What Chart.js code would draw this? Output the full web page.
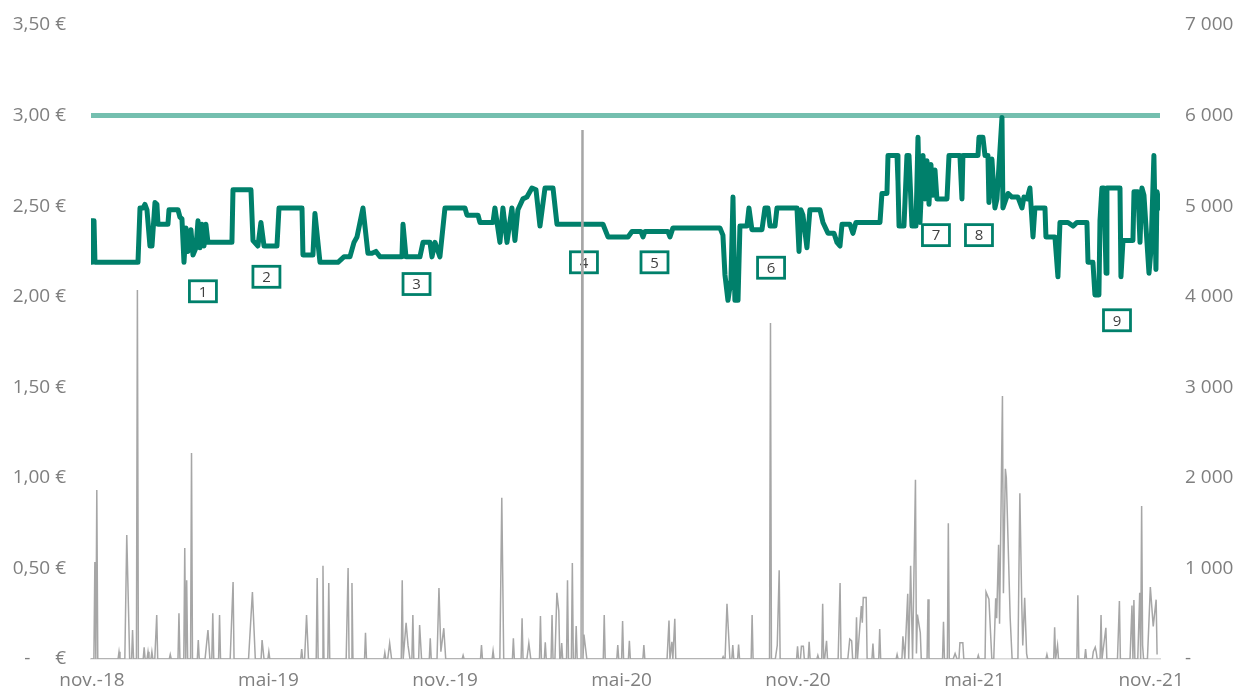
<!DOCTYPE html>
<html>
<head>
<meta charset="utf-8">
<script src="https://cdn.jsdelivr.net/npm/chart.js@4/dist/chart.umd.min.js"></script>
<style>
  html, body { margin: 0; padding: 0; background: #ffffff; }
  #wrap { width: 1236px; height: 693px; position: relative; }
</style>
</head>
<body>
<div id="wrap"><canvas id="c" width="1236" height="693"></canvas></div>
<script>
// ---- Data (x = days since 1 Nov 2018) ----
const xTickDays = [0, 182.6, 365.3, 547.9, 730.5, 913.1, 1095.8];
const xTickLabels = ['nov.-18', 'mai-19', 'nov.-19', 'mai-20', 'nov.-20', 'mai-21', 'nov.-21'];
const priceTickLabels = ['-     €', '0,50 €', '1,00 €', '1,50 €', '2,00 €', '2,50 €', '3,00 €', '3,50 €'];
const volTickLabels = ['-', '1 000', '2 000', '3 000', '4 000', '5 000', '6 000', '7 000'];

const priceDays = [-1,0,2.1,3.1,47.6,49.7,52.8,54.8,56.9,60,62.1,65.2,67.2,68.3,78.6,79.7,89,91,93.1,95.2,97.3,99.3,102.4,104.5,107.6,109.7,111.7,113.8,115.9,117.9,120,144.8,145.9,164.5,166.6,171.7,174.8,178,191.4,193.5,217.3,218.3,228.6,230.7,235.9,254.5,260.7,266.9,271.1,274.2,280.4,285.5,289.7,293.8,298,320.7,321.8,324.9,339.3,342.5,349.7,351.8,354.9,360,365.2,385.9,388,399.4,401.4,414.9,416.9,422.1,425.2,429.4,434.5,437.6,440.7,445.9,450,455.2,459.4,463.5,468.7,477,481.1,528.7,533.9,554.6,558.7,568,570.1,572.1,595.9,598,601.1,649.7,652.8,654.9,658,661.1,663.2,665.2,668.4,670.4,677.7,679.7,682.8,693.2,696.3,699.4,701.5,706.7,708.7,729.4,731.5,733.5,735.6,739.7,742.8,753.2,756.3,761.5,767.7,770.8,773.9,776,784.2,787.3,790.4,815.3,817.3,822.5,823.6,832.9,833.9,835,840.1,843.2,845.3,848.4,852.5,854.6,856.7,859.8,861.8,863.9,866,868,870.1,872.2,874.2,884.6,886.7,898,900.1,901.1,916.7,917.7,921.8,923.9,927,928,931.1,934.2,936.3,941.5,942.5,947.7,951.8,958,962.2,964.2,967.4,970.4,973.6,975.6,986,987,996.3,999.4,1001.5,1009.8,1015,1019.1,1029.4,1030.5,1035.6,1037.7,1041.8,1042.9,1044.9,1047,1049.2,1050.1,1063.6,1064.6,1066.7,1077,1078.1,1082.2,1084.3,1086.3,1088.4,1093.6,1095.7,1098.7,1100.8,1101.9,1105];
const priceValues = [2.19,2.42,2.42,2.19,2.19,2.49,2.49,2.51,2.48,2.28,2.28,2.52,2.51,2.40,2.40,2.48,2.48,2.44,2.43,2.19,2.38,2.25,2.37,2.23,2.27,2.42,2.27,2.40,2.28,2.40,2.30,2.30,2.59,2.59,2.31,2.28,2.41,2.28,2.28,2.49,2.49,2.23,2.23,2.46,2.19,2.19,2.22,2.22,2.30,2.33,2.49,2.24,2.24,2.25,2.22,2.22,2.40,2.22,2.22,2.30,2.30,2.22,2.30,2.22,2.49,2.49,2.45,2.45,2.41,2.41,2.49,2.30,2.49,2.30,2.49,2.31,2.48,2.54,2.55,2.60,2.59,2.39,2.60,2.60,2.40,2.40,2.33,2.33,2.36,2.36,2.33,2.36,2.36,2.33,2.38,2.38,2.34,2.12,1.98,2.09,2.55,1.98,1.98,2.39,2.39,2.49,2.37,2.37,2.49,2.49,2.39,2.39,2.49,2.49,2.25,2.48,2.45,2.27,2.48,2.48,2.41,2.35,2.35,2.30,2.28,2.40,2.40,2.35,2.41,2.41,2.57,2.57,2.78,2.78,2.64,2.39,2.39,2.78,2.78,2.39,2.39,2.88,2.41,2.78,2.54,2.75,2.51,2.73,2.56,2.70,2.54,2.54,2.78,2.78,2.54,2.78,2.78,2.88,2.88,2.78,2.78,2.52,2.76,2.49,2.54,2.99,2.49,2.57,2.55,2.55,2.49,2.55,2.54,2.60,2.33,2.49,2.49,2.33,2.33,2.11,2.41,2.41,2.39,2.41,2.41,2.19,2.19,2.01,2.01,2.42,2.60,2.60,2.13,2.60,2.60,2.11,2.31,2.31,2.58,2.58,2.30,2.60,2.56,2.13,2.26,2.78,2.15,2.58,2.49];

const ceilingDays = [-1, 1105];
const ceilingValues = [3.00, 3.00];

const volDays = [-1,2,3,4,5,6,27,28,29,34,36,39,41,42,43,46,47,48,53,54,55,57,58,59,61,62,63,65,67,68,80,81,82,89,90,91,95,96,97,98,99,102,103,104,109,110,111,117,120,122,124,125,126,131,132,133,143,146,147,162,166,169,175,176,178,182,183,184,216,217,218,220,222,224,232,233,234,238,239,240,244,245,246,263,265,266,268,269,270,282,283,284,302,303,304,306,308,310,320,321,322,325,327,329,331,332,333,338,339,341,349,350,351,357,359,361,364,366,383,384,385,402,403,404,414,415,416,422,424,426,435,436,437,444,445,446,450,452,454,463,464,465,468,469,470,475,476,477,479,481,483,484,485,486,487,491,492,493,496,497,498,500,501,502,506,507,508,509,512,529,530,531,543,544,545,548,549,550,555,556,557,570,571,572,595,597,598,600,601,603,604,652,653,654,655,657,660,662,663,664,668,669,670,682,683,684,701,702,703,707,709,711,712,729,730,731,733,734,736,737,741,742,743,750,751,752,755,756,757,758,760,761,772,774,775,782,784,786,787,790,791,792,796,797,798,801,802,807,808,809,814,815,816,832,833,834,838,839,841,844,845,847,849,852,853,854,857,858,864,865,866,880,881,882,885,886,887,891,893,895,897,898,901,902,916,917,918,924,925,928,931,933,935,936,938,939,942,943,945,946,950,952,958,960,962,963,965,967,968,987,988,989,995,996,997,999,1000,1019,1020,1021,1027,1028,1029,1035,1036,1038,1039,1040,1043,1044,1045,1049,1050,1061,1063,1064,1074,1076,1077,1078,1079,1082,1084,1085,1086,1087,1088,1092,1095,1098,1101,1102];
const volValues = [0,0,1070,0,1865,0,0,80,0,0,1370,0,0,320,0,0,4075,0,0,130,0,0,80,0,0,80,0,0,485,0,0,50,0,0,505,0,0,1225,0,870,0,0,2275,0,0,210,0,0,320,0,0,505,0,0,485,0,0,850,0,0,740,0,0,210,0,0,80,0,0,110,0,0,485,0,0,895,0,0,1030,0,0,840,0,0,1005,0,0,840,0,0,290,0,0,70,0,0,175,0,0,870,0,400,150,0,0,485,0,0,375,0,0,230,0,0,785,80,340,0,0,40,0,0,155,0,0,90,0,0,1780,0,0,230,0,0,450,0,0,175,0,0,475,0,0,185,0,0,485,0,0,730,530,0,0,175,0,0,870,0,0,1060,0,0,365,0,0,5840,0,270,0,0,485,0,0,155,0,0,420,0,0,200,0,0,155,0,0,425,0,190,0,445,0,0,25,0,0,610,0,0,155,0,0,160,0,0,485,0,0,3710,0,0,150,980,0,0,140,0,0,140,140,0,0,190,0,0,40,0,0,610,0,0,200,0,0,840,0,0,220,200,0,0,460,0,585,400,680,680,0,0,170,0,0,330,0,0,50,0,0,250,0,720,0,1030,0,1980,60,490,290,0,0,660,0,0,410,0,0,1500,0,0,60,0,0,180,180,0,0,40,0,0,740,660,0,0,670,450,1260,390,2905,725,2100,2000,450,0,0,1830,600,150,675,60,0,0,50,0,0,350,0,150,0,0,705,0,0,110,0,0,80,130,80,0,0,485,0,345,0,0,640,0,0,590,0,650,0,0,730,0,1690,150,0,0,795,360,655,50];

const annoLabels = ['1','2','3','4','5','6','7','8','9'];
const annoDays   = [114.8, 180.5, 335.8, 509.0, 582.0, 702.6, 873.2, 917.7, 1060.5];
const annoPrices = [2.03, 2.11, 2.07, 2.19, 2.19, 2.16, 2.34, 2.34, 1.87];

// ---- Build datasets ----
const toPoints = (xs, ys) => xs.map((x, i) => ({ x: x, y: ys[i] }));

const GREEN = '#00806B';
const TEAL = '#74BFAF';
const GREY = '#A6A6A6';
const LABEL = '#7F7F7F';
const FONT = "'Open Sans', 'DejaVu Sans', sans-serif";

const annoPlugin = {
  id: 'annoBoxes',
  beforeDatasetsDraw(chart) {
    const ctx = chart.ctx;
    const xs = chart.scales.x, ys = chart.scales.y;
    ctx.save();
    annoLabels.forEach((lab, i) => {
      const cx = xs.getPixelForValue(annoDays[i]);
      const cy = ys.getPixelForValue(annoPrices[i]);
      const w = 27, h = 21;
      ctx.fillStyle = '#ffffff';
      ctx.fillRect(cx - w / 2, cy - h / 2, w, h);
      ctx.lineWidth = 2.8;
      ctx.strokeStyle = GREEN;
      ctx.strokeRect(cx - w / 2, cy - h / 2, w, h);
      ctx.fillStyle = '#404040';
      ctx.font = "15px " + FONT;
      ctx.textAlign = 'center';
      ctx.textBaseline = 'middle';
      ctx.fillText(lab, cx, cy + 1);
    });
    ctx.restore();
  }
};

new Chart(document.getElementById('c'), {
  type: 'line',
  data: {
    datasets: [
      {
        label: 'Volume',
        data: toPoints(volDays, volValues),
        yAxisID: 'yVol',
        borderColor: GREY,
        borderWidth: 1.5,
        pointRadius: 0,
        tension: 0,
        order: 0
      },
      {
        label: 'Cours',
        data: toPoints(priceDays, priceValues),
        yAxisID: 'y',
        borderColor: GREEN,
        borderWidth: 5,
        borderJoinStyle: 'round',
        borderCapStyle: 'round',
        pointRadius: 0,
        tension: 0,
        order: 1
      },
      {
        label: 'Plafond',
        data: toPoints(ceilingDays, ceilingValues),
        yAxisID: 'y',
        borderColor: TEAL,
        borderWidth: 5,
        borderCapStyle: 'round',
        pointRadius: 0,
        order: 2
      }
    ]
  },
  options: {
    responsive: false,
    animation: false,
    layout: { padding: { top: 25, bottom: 0, left: 0, right: 0 } },
    plugins: { legend: { display: false }, tooltip: { enabled: false } },
    scales: {
      x: {
        type: 'linear',
        min: -1,
        max: 1105,
        afterBuildTicks(s) { s.ticks = xTickDays.map(v => ({ value: v })); },
        afterFit(s) { s.height = 34; },
        grid: { display: false, drawTicks: false },
        border: { display: true, color: '#D9D9D9', width: 1.5 },
        ticks: {
          autoSkip: false,
          maxRotation: 0,
          padding: 10,
          color: LABEL,
          font: { family: FONT, size: 19 },
          callback: (v, i) => xTickLabels[i]
        }
      },
      y: {
        position: 'left',
        min: 0,
        max: 3.5,
        afterBuildTicks(s) { s.ticks = priceTickLabels.map((t, i) => ({ value: i * 0.5 })); },
        afterFit(s) { s.width = 91; },
        grid: { display: false, drawTicks: true, tickLength: 25 },
        border: { display: false },
        ticks: {
          padding: 0,
          color: LABEL,
          font: { family: FONT, size: 19 },
          callback: (v, i) => priceTickLabels[i]
        }
      },
      yVol: {
        position: 'right',
        min: 0,
        max: 7000,
        afterBuildTicks(s) { s.ticks = volTickLabels.map((t, i) => ({ value: i * 1000 })); },
        afterFit(s) { s.width = 76; },
        grid: { display: false, drawTicks: true, tickLength: 25 },
        border: { display: false },
        ticks: {
          padding: 0,
          color: LABEL,
          font: { family: FONT, size: 19 },
          callback: (v, i) => volTickLabels[i]
        }
      }
    }
  },
  plugins: [annoPlugin]
});
</script>
</body>
</html>
